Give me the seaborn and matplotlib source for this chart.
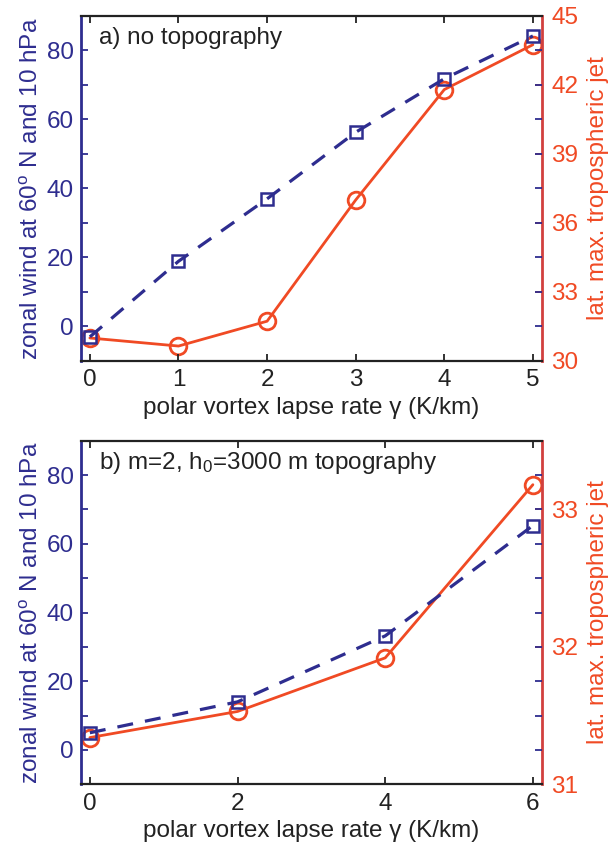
import numpy as np
import pandas as pd
import matplotlib
matplotlib.use("Agg")
import matplotlib.pyplot as plt
from matplotlib.ticker import MultipleLocator
import seaborn as sns

sns.set_style("ticks")
plt.rcParams['font.family'] = ['Liberation Sans', 'DejaVu Sans']
plt.rcParams['mathtext.fontset'] = 'custom'
plt.rcParams['mathtext.rm'] = 'Liberation Sans'
plt.rcParams['mathtext.it'] = 'Liberation Sans'

BLUE = '#2e2d8f'
RED = '#f04a24'
RED_SPINE = '#d1403e'

# panel a) no topography
gamma_a = [0, 1, 2, 3, 4, 5]
wind_a = [-3.0, 18.9, 37.0, 56.3, 71.8, 84.2]
jet_a = [31.0, 30.65, 31.73, 37.0, 41.8, 43.75]

# panel b) m=2, h0=3000 m topography
gamma_b = [0, 2, 4, 6]
wind_b = [5.0, 14.0, 33.2, 65.3]
jet_b = [31.34, 31.53, 31.92, 33.18]

df_a = pd.DataFrame({'gamma': gamma_a, 'wind': wind_a, 'jet': jet_a})
df_b = pd.DataFrame({'gamma': gamma_b, 'wind': wind_b, 'jet': jet_b})

fig = plt.figure(figsize=(6.12, 8.49), dpi=100)

panels = [
    (df_a, [0.1324, 0.5748, 0.7528, 0.4064], (-0.1, 5.1), 1, (30, 45), 3,
     'a) no topography'),
    (df_b, [0.1324, 0.0762, 0.7528, 0.4047], (-0.12, 6.12), 2, (31, 33.5), 1,
     'b) m=2, h$_0$=3000 m topography'),
]

fs = 17.5
for df, rect, xlim, xstep, rlim, rstep, title in panels:
    ax = fig.add_axes(rect)
    ax2 = ax.twinx()

    sns.lineplot(data=df, x='gamma', y='wind', ax=ax, color=BLUE,
                 linestyle=(0, (5, 3.8)), linewidth=2.3, marker='s', markersize=8,
                 markerfacecolor='none', markeredgecolor=BLUE, markeredgewidth=1.8)
    sns.lineplot(data=df, x='gamma', y='jet', ax=ax2, color=RED,
                 linewidth=2, marker='o', markersize=12,
                 markerfacecolor='none', markeredgecolor=RED, markeredgewidth=2)

    ax.set_xlim(*xlim)
    ax.set_ylim(-10, 90)
    ax2.set_ylim(*rlim)
    ax.xaxis.set_major_locator(MultipleLocator(xstep))
    ax.yaxis.set_major_locator(MultipleLocator(20))
    ax.yaxis.set_minor_locator(MultipleLocator(10))
    ax2.yaxis.set_major_locator(MultipleLocator(rstep))

    # spines
    for s in ['top', 'bottom']:
        ax.spines[s].set_color('#222222')
        ax.spines[s].set_linewidth(1.6)
    ax.spines['left'].set_color(BLUE)
    ax.spines['left'].set_linewidth(2)
    ax.spines['right'].set_visible(False)
    for s in ['left', 'top', 'bottom']:
        ax2.spines[s].set_visible(False)
    ax2.spines['right'].set_color(RED_SPINE)
    ax2.spines['right'].set_linewidth(2)

    ax.tick_params(axis='x', which='both', direction='in', top=True, length=5,
                   width=1.3, color='#222222', labelsize=fs, labelcolor='#222222', pad=6)
    ax.tick_params(axis='y', which='both', direction='in', left=True, right=True,
                   length=5, width=1.3, color=BLUE, labelsize=fs, labelcolor=BLUE, pad=5)
    ax2.tick_params(axis='y', which='both', direction='in', length=5, width=1.3,
                    color=RED, labelsize=fs, labelcolor=RED, pad=7)

    ax.set_xlabel('polar vortex lapse rate \u03b3 (K/km)', fontsize=fs, color='#222222', labelpad=4)
    ax.set_ylabel('zonal wind at 60$^\\mathrm{o}$ N and 10 hPa', fontsize=fs, color=BLUE, labelpad=3)
    ax2.set_ylabel('lat. max. tropospheric jet', fontsize=fs, color=RED, labelpad=6)

    ax.text(0.04, 0.935, title, transform=ax.transAxes, fontsize=fs,
            color='#222222', va='center', ha='left')

    ax.set_zorder(ax2.get_zorder() + 1)
    ax.patch.set_visible(False)

fig.savefig('out.png', dpi=100)
